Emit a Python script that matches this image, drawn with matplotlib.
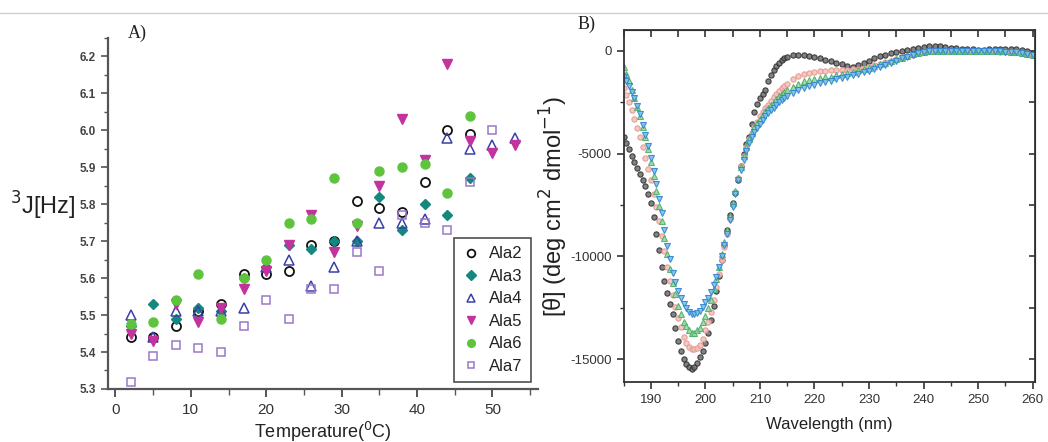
import matplotlib
matplotlib.use('Agg')
import matplotlib.pyplot as plt
from matplotlib.lines import Line2D
from matplotlib.ticker import MultipleLocator
import numpy as np

plt.rcParams['font.family'] = ['Liberation Sans', 'DejaVu Sans']

# ---- panel A: 3J couplings vs temperature ----
temps = [2, 5, 8, 11, 14, 17, 20, 23, 26, 29, 32, 35, 38, 41, 44, 47, 50, 53]

ala2 = [5.44, 5.44, 5.47, 5.51, 5.53, 5.61, 5.61, 5.62, 5.69, 5.70, 5.81, 5.79, 5.78, 5.86, 6.00, 5.99]
ala3 = [5.47, 5.53, 5.49, 5.52, 5.51, 5.60, 5.63, 5.69, 5.68, 5.70, 5.70, 5.82, 5.73, 5.80, 5.77, 5.87]
ala4 = [5.50, 5.44, 5.51, 5.51, 5.51, 5.52, 5.63, 5.65, 5.58, 5.63, 5.70, 5.75, 5.75, 5.76, 5.98, 5.95, 5.96, 5.98]
ala5 = [5.45, 5.43, 5.53, 5.48, 5.52, 5.57, 5.62, 5.69, 5.77, 5.67, 5.74, 5.85, 6.03, 5.92, 6.18, 5.97, 5.94, 5.96]
ala6 = [5.475, 5.48, 5.54, 5.61, 5.49, 5.60, 5.65, 5.75, 5.76, 5.87, 5.75, 5.89, 5.90, 5.91, 5.83, 6.04]
ala7 = [5.32, 5.39, 5.42, 5.41, 5.40, 5.47, 5.54, 5.49, 5.57, 5.57, 5.67, 5.62, 5.77, 5.75, 5.73, 5.86, 6.00]

# ---- panel B: CD spectra (0.5 nm steps up to 215 nm, 1 nm after) ----
wl = list(np.arange(185, 215.5, 0.5)) + list(range(216, 261))

cd_a = [-4200, -4500, -4800, -5100, -5400, -5700, -6000, -6300, -6600, -6950,
        -7400, -8100, -8900, -9700, -10500, -11200, -11800, -12300, -12800, -13500,
        -14100, -14600, -15000, -15250, -15400, -15450, -15400, -15200, -14900, -14600,
        -14200, -13700, -13100, -12400, -11700, -10950, -10200, -9450, -8700, -8000,
        -7400, -6900, -6300, -5600, -5000, -4550, -4200, -3550, -3000, -2600,
        -2300, -2100, -1900, -1500, -1200, -950, -750, -580, -450, -360,
        -300,
        -220, -200, -220, -260, -320, -380, -440, -500, -580, -660,
        -740, -790, -720, -600, -480, -380, -280, -200, -130, -60,
        0, 50, 100, 150, 190, 220, 230, 220, 190, 150,
        120, 100, 80, 60, 50, 50, 60, 70, 90, 100,
        90, 60, 20, -40, -100]
cd_b = [-1800, -2150, -2500, -2900, -3300, -3750, -4200, -4700, -5200, -5750,
        -6300, -6950, -7600, -8300, -9000, -9750, -10500, -11200, -11900, -12450,
        -13000, -13450, -13900, -14200, -14400, -14500, -14500, -14450, -14300, -14000,
        -13600, -13200, -12700, -12100, -11500, -10850, -10200, -9550, -8900, -8200,
        -7500, -6850, -6200, -5600, -5100, -4700, -4300, -4000, -3700, -3450,
        -3200, -3000, -2800, -2620, -2450, -2270, -2100, -1950, -1800, -1700,
        -1600,
        -1400, -1250, -1150, -1100, -1050, -1000, -980, -960, -940, -930,
        -920, -900, -880, -850, -800, -720, -640, -560, -480, -400,
        -330, -260, -190, -130, -80, -40, -20, -20, -30, -30,
        -30, -30, -30, -30, -30, -30, -40, -40, -50, -50,
        -60, -80, -100, -150, -200]
cd_c = [-800, -1150, -1500, -1900, -2300, -2750, -3200, -3700, -4200, -4800,
        -5400, -6100, -6800, -7550, -8300, -9100, -9900, -10600, -11300, -11850,
        -12400, -12800, -13200, -13400, -13600, -13700, -13700, -13600, -13500, -13200,
        -12900, -12500, -12100, -11600, -11100, -10500, -9900, -9300, -8700, -8050,
        -7400, -6800, -6200, -5650, -5100, -4700, -4300, -4000, -3700, -3500,
        -3300, -3120, -2950, -2800, -2650, -2500, -2350, -2220, -2100, -2000,
        -1900,
        -1750, -1600, -1500, -1450, -1400, -1350, -1300, -1260, -1200, -1140,
        -1080, -1020, -960, -900, -820, -740, -660, -580, -500, -420,
        -340, -260, -180, -110, -60, -20, 0, 0, -10, -20,
        -20, -20, -20, -20, -20, -20, -30, -30, -30, -40,
        -50, -70, -100, -150, -200]
cd_d = [-1300, -1500, -1700, -2000, -2300, -2700, -3100, -3600, -4100, -4650,
        -5200, -5850, -6500, -7200, -7900, -8700, -9500, -10150, -10800, -11250,
        -11700, -12000, -12300, -12500, -12700, -12800, -12800, -12750, -12650, -12450,
        -12200, -12000, -11750, -11400, -11000, -10500, -10000, -9450, -8900, -8250,
        -7600, -6950, -6300, -5800, -5300, -4900, -4500, -4200, -3950, -3750,
        -3550, -3370, -3200, -3050, -2900, -2770, -2650, -2520, -2400, -2300,
        -2200,
        -2050, -1900, -1800, -1720, -1650, -1580, -1520, -1460, -1400, -1340,
        -1270, -1200, -1130, -1060, -980, -880, -780, -680, -580, -480,
        -380, -290, -200, -130, -70, -30, -10, -10, -20, -20,
        -30, -30, -30, -30, -30, -30, -30, -40, -40, -50,
        -60, -80, -110, -160, -200]

fig = plt.figure(figsize=(10.48, 4.42), dpi=100)
fig.add_artist(Line2D([0, 1], [0.971, 0.971], color='#cfcfcf', lw=1))

# ---------------- panel A ----------------
ax = fig.add_axes([0.103, 0.120, 0.410, 0.794])
ms = 6.5
ax.plot(temps[:len(ala2)], ala2, 'o', ls='none', mfc='none', mec='#111111', mew=1.3, ms=ms, label='Ala2')
ax.plot(temps[:len(ala3)], ala3, 'D', ls='none', mfc='#13887e', mec='#13887e', ms=5.5, label='Ala3')
ax.plot(temps[:len(ala4)], ala4, '^', ls='none', mfc='none', mec='#3b3fa6', mew=1.1, ms=ms, label='Ala4')
ax.plot(temps[:len(ala5)], ala5, 'v', ls='none', mfc='#c2339e', mec='#c2339e', ms=ms, label='Ala5')
ax.plot(temps[:len(ala6)], ala6, 'o', ls='none', mfc='#5ec43e', mec='#5ec43e', ms=ms, label='Ala6')
ax.plot(temps[:len(ala7)], ala7, 's', ls='none', mfc='none', mec='#9a78c8', mew=1.1, ms=5.5, label='Ala7')

ax.set_xlim(-1, 56)
ax.set_ylim(5.3, 6.25)
ax.xaxis.set_major_locator(MultipleLocator(10))
ax.xaxis.set_minor_locator(MultipleLocator(5))
ax.yaxis.set_minor_locator(MultipleLocator(0.05))
ax.set_yticks(np.arange(5.3, 6.21, 0.1))
ax.set_yticklabels(['%.1f' % v for v in np.arange(5.3, 6.21, 0.1)])
for s in ['top', 'right']:
    ax.spines[s].set_visible(False)
for s in ['left', 'bottom']:
    ax.spines[s].set_color('#555555')
    ax.spines[s].set_linewidth(1.6)
ax.tick_params(axis='y', which='major', direction='out', length=5, width=1.2, colors='#555555',
               labelsize=8.5, labelcolor='#444444')
ax.tick_params(axis='y', which='minor', direction='out', length=3, width=1.0, colors='#555555')
ax.tick_params(axis='x', which='major', direction='out', length=6, width=1.4, colors='#555555',
               labelsize=11, labelcolor='#333333', pad=4)
ax.tick_params(axis='x', which='minor', direction='out', length=4, width=1.0, colors='#555555')
for lab in ax.get_yticklabels():
    lab.set_fontweight('bold')
ax.set_xlabel('Temperature($^0$C)', fontsize=13, color='#222222', labelpad=2)

leg = ax.legend(loc='lower right', bbox_to_anchor=(1.0, 0.0), fontsize=12, frameon=True,
                fancybox=False, edgecolor='#222222', handletextpad=0.6, borderpad=0.5,
                labelspacing=0.45, handlelength=1.0, markerscale=0.85, borderaxespad=0.4)
leg.get_frame().set_linewidth(1.2)
for t in leg.get_texts():
    t.set_color('#222222')

fig.text(0.010, 0.535, '$^3$J[Hz]', fontsize=17, color='#222222', va='center', ha='left')
fig.text(0.122, 0.915, 'A)', fontsize=13, family='Liberation Serif', color='#222222')

# ---------------- panel B ----------------
bx = fig.add_axes([0.595, 0.136, 0.393, 0.796])
cms = 3.8
bx.plot(wl, cd_a, 'o', ls='none', ms=cms, mfc='#6d6d6d', mec='#2a2a2a', mew=0.8, alpha=0.85)
bx.plot(wl, cd_b, 'o', ls='none', ms=cms, mfc='#f4c2bc', mec='#e39a92', mew=0.8, alpha=0.9)
bx.plot(wl, cd_c, '^', ls='none', ms=cms + 0.4, mfc='#9ad8a6', mec='#4cb06a', mew=0.8, alpha=0.9)
bx.plot(wl, cd_d, 'v', ls='none', ms=cms + 0.4, mfc='#7fc1ea', mec='#2f86cf', mew=0.8, alpha=0.9)

bx.set_xlim(185, 260.5)
bx.set_ylim(-16100, 1000)
bx.xaxis.set_minor_locator(MultipleLocator(5))
bx.yaxis.set_minor_locator(MultipleLocator(2500))
for s in bx.spines.values():
    s.set_color('#333333')
    s.set_linewidth(1.3)
bx.tick_params(axis='both', which='major', direction='out', length=5, width=1.2, colors='#333333',
               labelsize=9.5, labelcolor='#333333')
bx.tick_params(axis='both', which='minor', direction='out', length=3, width=1.0, colors='#333333')
bx.set_xticks([190, 200, 210, 220, 230, 240, 250, 260])
bx.set_yticks([0, -5000, -10000, -15000])
bx.set_yticklabels(['0', '-5000', '-10000', '-15000'])

# inward ticks on the top and right edges
tx = bx.secondary_xaxis('top')
tx.xaxis.set_major_locator(MultipleLocator(5))
tx.tick_params(direction='in', length=5, width=1.2, colors='#333333', labeltop=False)
ty = bx.secondary_yaxis('right')
ty.yaxis.set_major_locator(MultipleLocator(2500))
ty.tick_params(direction='in', length=4, width=1.2, colors='#333333', labelright=False)

bx.set_xlabel('Wavelength (nm)', fontsize=12, color='#222222', labelpad=8)
bx.set_ylabel('[θ] (deg cm$^2$ dmol$^{-1}$)', fontsize=17, color='#222222', labelpad=0)
fig.text(0.551, 0.935, 'B)', fontsize=13, family='Liberation Serif', color='#222222')

fig.savefig('out.png', dpi=100)
